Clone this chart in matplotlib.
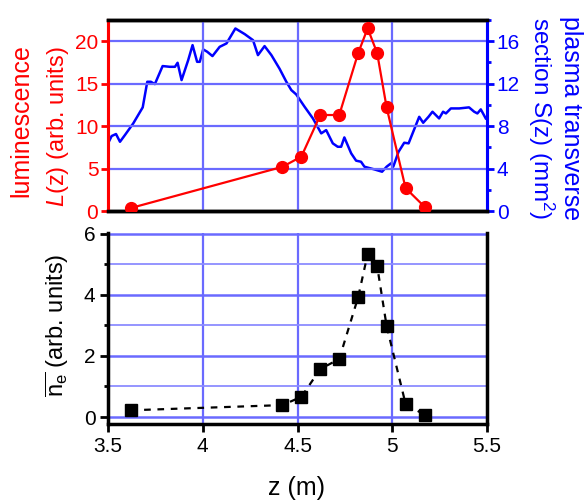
"""
plot.py

Luminescence, plasma section and mean density along z.
"""
import matplotlib
matplotlib.use("Agg")
import matplotlib.pyplot as plt
from matplotlib.ticker import MultipleLocator

plt.rcParams["font.family"] = ["Liberation Sans", "DejaVu Sans"]
plt.rcParams["mathtext.fontset"] = "custom"
plt.rcParams["mathtext.rm"] = "Liberation Sans"
plt.rcParams["mathtext.it"] = "Liberation Sans:italic"

# luminescence L(z), red circles
lum_z = [3.62, 4.42, 4.52, 4.62, 4.72, 4.82, 4.87, 4.92, 4.97, 5.07, 5.17]
lum_val = [0.35, 5.2, 6.4, 11.3, 11.3, 18.6, 21.5, 18.6, 12.2, 2.7, 0.5]

# plasma transverse section S(z), blue line
sec_z = [3.50, 3.519, 3.542, 3.563, 3.589, 3.633, 3.683, 3.707, 3.726, 3.747,
         3.788, 3.826, 3.853, 3.867, 3.888, 3.923, 3.946, 3.970, 3.984, 4.002,
         4.023, 4.051, 4.089, 4.125, 4.172, 4.221, 4.265, 4.291, 4.326, 4.362,
         4.405, 4.440, 4.467, 4.493, 4.537, 4.581, 4.625, 4.651, 4.686, 4.712,
         4.730, 4.747, 4.783, 4.809, 4.835, 4.853, 4.905, 4.946, 4.970, 4.993,
         5.005, 5.033, 5.063, 5.086, 5.107, 5.142, 5.163, 5.191, 5.212, 5.247,
         5.268, 5.283, 5.309, 5.353, 5.405, 5.432, 5.449, 5.467, 5.493]
sec_val = [6.37, 7.06, 7.25, 6.52, 7.15, 8.25, 9.76, 12.17, 12.17, 11.95,
           13.65, 13.58, 13.58, 13.96, 12.33, 14.21, 15.62, 14.05, 14.05, 15.22,
           15.00, 14.59, 15.46, 15.78, 17.19, 16.66, 16.09, 14.68, 15.53, 14.68,
           13.40, 12.20, 11.39, 10.98, 9.82, 8.72, 7.31, 7.62, 6.37, 6.05,
           6.05, 6.93, 5.43, 4.74, 4.64, 4.17, 3.92, 3.70, 4.17, 4.49,
           4.17, 5.58, 6.43, 6.37, 7.31, 8.87, 8.31, 8.87, 9.35, 8.72,
           9.35, 9.19, 9.66, 9.66, 9.76, 9.35, 9.19, 9.57, 8.72]

# mean electron density, black squares
ne_z = [3.62, 4.42, 4.52, 4.62, 4.72, 4.82, 4.87, 4.92, 4.97, 5.07, 5.17]
ne_val = [0.22, 0.39, 0.66, 1.57, 1.90, 3.93, 5.34, 4.95, 2.98, 0.43, 0.07]

x_ticks = [3.5, 4, 4.5, 5, 5.5]
x_tick_labels = ["3.5", "4", "4.5", "5", "5.5"]

GRID = "#6a6aff"
RED = "#ff0000"
BLUE = "#0000ff"
W, H = 584, 503

fig = plt.figure(figsize=(5.84, 5.03), dpi=100)


def px(x, y):
    # pixel position (from top left) -> figure fraction
    return x / W, 1 - y / H


# ============================================
#         top panel
# ============================================
ax1 = fig.add_axes([0.185, 0.5805, 0.649, 0.380])
ax2 = ax1.twinx()

for x in [4, 4.5, 5]:
    ax1.axvline(x, color=GRID, lw=1.6, zorder=0)
for y in [5, 10, 15, 20]:
    ax1.axhline(y, color=GRID, lw=1.6, zorder=0)

ax2.plot(sec_z, sec_val, color=BLUE, lw=1.8, zorder=2)
ax1.plot(lum_z, lum_val, color=RED, lw=1.6, marker="o", ms=8.5, zorder=3)
ax1.set_zorder(ax2.get_zorder() + 1)
ax1.patch.set_visible(False)

ax1.set_xlim(3.5, 5.5)
ax1.set_ylim(0, 22.5)
ax2.set_ylim(0, 18)
ax1.set_xticks([])
ax1.set_yticks([0, 5, 10, 15, 20])
ax2.set_yticks([0, 4, 8, 12, 16])
ax2.yaxis.set_minor_locator(MultipleLocator(2))

ax1.tick_params(axis="y", colors=RED, labelsize=15, width=2, length=5, pad=2)
ax2.tick_params(axis="y", which="major", colors=BLUE, labelsize=15,
                width=2, length=5, pad=2)
ax2.tick_params(axis="y", which="minor", colors=BLUE, width=2, length=3)

for ax in (ax1, ax2):
    ax.spines["top"].set_linewidth(2.5)
    ax.spines["bottom"].set_linewidth(2.5)
    ax.spines["left"].set_color(RED)
    ax.spines["left"].set_linewidth(2.2)
    ax.spines["right"].set_color(BLUE)
    ax.spines["right"].set_linewidth(2.2)

fig.text(*px(21, 121), "luminescence", color=RED, fontsize=18,
         rotation=90, ha="center", va="center")
fig.text(*px(58, 127), "$L$(z) (arb. units)", color=RED, fontsize=17,
         rotation=90, ha="center", va="center")
fig.text(*px(571, 118), "plasma transverse", color=BLUE, fontsize=18,
         rotation=-90, ha="center", va="center")
fig.text(*px(541, 118), "section S(z) (mm$^2$)", color=BLUE, fontsize=17.5,
         rotation=-90, ha="center", va="center")

# ============================================
#         bottom panel
# ============================================
ax3 = fig.add_axes([0.185, 0.157, 0.649, 0.380])

for x in [4, 4.5, 5]:
    ax3.axvline(x, color=GRID, lw=1.6, zorder=0)
for y in [0, 2, 4, 6]:
    ax3.axhline(y, color=GRID, lw=1.8, zorder=0)
for y in [1, 3, 5]:
    ax3.axhline(y, color="#8c8cff", lw=1.3, zorder=0)

ax3.plot(ne_z, ne_val, color="black", lw=1.6, ls=(0, (3, 3)),
         marker="s", ms=8, zorder=3)

ax3.set_xlim(3.5, 5.5)
ax3.set_ylim(-0.23, 6.03)
ax3.set_xticks(x_ticks)
ax3.set_xticklabels(x_tick_labels)
ax3.set_yticks([0, 2, 4, 6])
ax3.yaxis.set_minor_locator(MultipleLocator(1))
ax3.tick_params(axis="both", which="major", labelsize=15, width=2,
                length=6, pad=3)
ax3.tick_params(axis="y", which="minor", width=2, length=3)

ax3.spines["top"].set_visible(False)
for side in ("left", "bottom", "right"):
    ax3.spines[side].set_linewidth(2.5)

fig.text(*px(57, 325),
         r"$\overline{\mathregular{n}_\mathregular{e}}$ (arb. units)",
         fontsize=17, rotation=90, ha="center", va="center")
fig.text(*px(297, 488), "z (m)", fontsize=18, ha="center", va="center")

fig.savefig("out.png", dpi=100)
